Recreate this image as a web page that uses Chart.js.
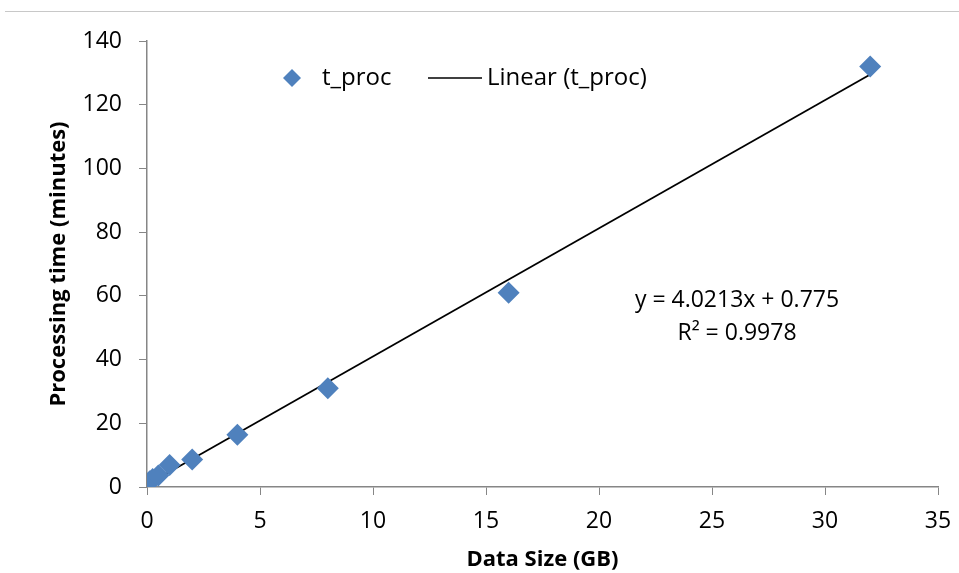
<!DOCTYPE html>
<html>
<head>
<meta charset="utf-8">
<script src="https://cdn.jsdelivr.net/npm/chart.js@4/dist/chart.umd.min.js"></script>
<style>
  html, body { margin: 0; padding: 0; background: #fff; }
  #wrap { width: 959px; height: 573px; position: relative; }
</style>
</head>
<body>
<div id="wrap"><canvas id="chart" width="959" height="573"></canvas></div>
<script>
// Data size (GB) vs processing time (minutes)
const dataSizes = [0.125, 0.25, 0.5, 1, 2, 4, 8, 16, 32];
const procTimes = [1.8, 2.5, 3.6, 6.9, 8.6, 16.4, 31, 61, 132];

// Linear fit shown on the chart
const slope = 4.0213;
const intercept = 0.775;
const rSquared = 0.9978;

const xTicks = [0, 5, 10, 15, 20, 25, 30, 35];
const yTicks = [0, 20, 40, 60, 80, 100, 120, 140];

const pointColor = '#4F81BD';
const axisColor = '#868686';
const textColor = '#000';
const fontFamily = '"Open Sans", sans-serif';
const tickSize = 23;
const titleSize = 22;
const legendSize = 24;
const labelSize = 23;

const points = dataSizes.map((x, i) => ({ x: x, y: procTimes[i] }));
const xMin = Math.min(...dataSizes), xMax = Math.max(...dataSizes);
const trend = [xMin, xMax].map(x => ({ x: x, y: slope * x + intercept }));

// Legend, equation box and the thin frame line along the top
const extrasPlugin = {
    id: 'extras',
    afterDraw(chart) {
        const ctx = chart.ctx;
        ctx.save();

        ctx.strokeStyle = '#c8c8c8';
        ctx.lineWidth = 1;
        ctx.beginPath();
        ctx.moveTo(5, 11.5);
        ctx.lineTo(959, 11.5);
        ctx.stroke();

        ctx.textBaseline = 'middle';

        // legend
        const ly = 78;
        ctx.fillStyle = pointColor;
        ctx.beginPath();
        ctx.moveTo(292, ly - 9);
        ctx.lineTo(301, ly);
        ctx.lineTo(292, ly + 9);
        ctx.lineTo(283, ly);
        ctx.closePath();
        ctx.fill();
        ctx.font = legendSize + 'px ' + fontFamily;
        ctx.fillStyle = textColor;
        ctx.textAlign = 'left';
        ctx.fillText('t_proc', 322, ly);

        ctx.strokeStyle = '#000';
        ctx.lineWidth = 1.5;
        ctx.beginPath();
        ctx.moveTo(428, ly);
        ctx.lineTo(482, ly);
        ctx.stroke();
        ctx.fillText('Linear (t_proc)', 487, ly);

        // regression equation
        ctx.font = labelSize + 'px ' + fontFamily;
        ctx.textAlign = 'center';
        ctx.fillText('y = ' + slope + 'x + ' + intercept, 737, 300);
        ctx.fillText('R² = ' + rSquared, 737, 333);

        ctx.restore();
    }
};

new Chart(document.getElementById('chart'), {
    type: 'scatter',
    data: {
        datasets: [
            {
                label: 'Linear (t_proc)',
                data: trend,
                showLine: true,
                borderColor: '#000',
                borderWidth: 1.8,
                pointRadius: 0,
                fill: false,
                order: 2
            },
            {
                label: 't_proc',
                data: points,
                pointStyle: 'rectRot',
                pointRadius: 11,
                pointBackgroundColor: pointColor,
                pointBorderColor: pointColor,
                pointBorderWidth: 0,
                order: 1
            }
        ]
    },
    options: {
        responsive: false,
        animation: false,
        layout: { padding: { left: 0, right: 21, top: 41, bottom: 0 } },
        plugins: {
            legend: { display: false },
            tooltip: { enabled: false }
        },
        scales: {
            x: {
                type: 'linear',
                min: xTicks[0],
                max: xTicks[xTicks.length - 1],
                afterBuildTicks: axis => { axis.ticks = xTicks.map(v => ({ value: v })); },
                afterFit: axis => {
                    axis.height = 86;
                    axis.paddingRight = 0;
                },
                grid: { display: true, drawOnChartArea: false, color: axisColor, tickLength: 8 },
                border: { color: axisColor, width: 1.5 },
                ticks: { color: textColor, font: { family: fontFamily, size: tickSize }, padding: 13 },
                title: {
                    display: true,
                    text: 'Data Size (GB)',
                    color: textColor,
                    font: { family: fontFamily, size: titleSize, weight: 'bold' },
                    padding: { top: 0, bottom: 0 }
                }
            },
            y: {
                type: 'linear',
                min: yTicks[0],
                max: yTicks[yTicks.length - 1],
                afterBuildTicks: axis => { axis.ticks = yTicks.map(v => ({ value: v })); },
                afterFit: axis => { axis.width = 147; },
                grid: { display: true, drawOnChartArea: false, color: axisColor, tickLength: 8 },
                border: { color: axisColor, width: 1.5 },
                ticks: { color: textColor, font: { family: fontFamily, size: tickSize }, padding: 17 },
                title: {
                    display: true,
                    text: 'Processing time (minutes)',
                    color: textColor,
                    font: { family: fontFamily, size: titleSize, weight: 'bold' },
                    padding: { top: 46, bottom: 0 }
                }
            }
        }
    },
    plugins: [extrasPlugin]
});
</script>
</body>
</html>
